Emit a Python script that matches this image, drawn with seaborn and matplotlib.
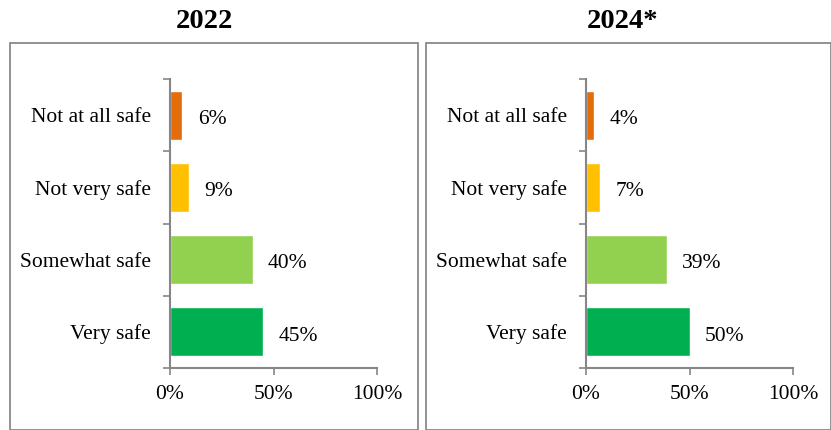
import matplotlib
matplotlib.use("Agg")
import matplotlib.pyplot as plt
import matplotlib.patches as patches
import seaborn as sns
import pandas as pd

# data
categories = ["Not at all safe", "Not very safe", "Somewhat safe", "Very safe"]
values_2022 = [6, 9, 40, 45]
values_2024 = [4, 7, 39, 50]
titles = ["2022", "2024*"]
colors = ["#E46C0A", "#FFC000", "#92D050", "#00B050"]
xticks = [0, 50, 100]

sns.set_theme(style="white")
plt.rcParams["font.family"] = ["Liberation Serif", "DejaVu Serif"]
plt.rcParams["text.color"] = "black"
plt.rcParams["xtick.color"] = "black"
plt.rcParams["ytick.color"] = "black"

W, H = 831, 430
fig = plt.figure(figsize=(W / 100, H / 100), dpi=100)

spine_col = "#868686"
box_col = "#7F7F7F"
fs = 15.5

# panel layout in pixels: box (x0, x1), axis left edge, title centre
panels = [
    dict(box=(10, 418), ax_x=170, title_x=204),
    dict(box=(426, 831), ax_x=586, title_x=622),
]
ax_w = 207
ax_top, ax_bot = 79, 368

for vals, title, p in zip([values_2022, values_2024], titles, panels):
    # outer box
    bx0, bx1 = p["box"]
    fig.patches.append(patches.Rectangle(
        (bx0 / W, 1 - 429.5 / H), (bx1 - bx0) / W, (429.5 - 43) / H,
        transform=fig.transFigure, fill=False, edgecolor=box_col, linewidth=1.2))
    fig.text(p["title_x"] / W, 1 - 21 / H, title, ha="center", va="center",
             fontsize=20.5, fontweight="bold", color="black")

    ax = fig.add_axes([p["ax_x"] / W, 1 - ax_bot / H, ax_w / W, (ax_bot - ax_top) / H])
    ax.set_facecolor("none")
    df = pd.DataFrame({"cat": categories, "val": vals})
    sns.barplot(data=df, x="val", y="cat", hue="cat", palette=colors,
                order=categories, hue_order=categories, width=0.68,
                legend=False, ax=ax, saturation=1)

    for i, v in enumerate(vals):
        ax.annotate(f"{v}%", (v, i), xytext=(11, -3), textcoords="offset points",
                    ha="left", va="center", fontsize=fs, color="black")

    ax.set_xlim(0, 100)
    ax.set_ylim(3.5, -0.5)
    ax.set_xticks(xticks)
    ax.set_xticklabels([f"{t}%" for t in xticks], fontsize=fs)
    # category boundaries get ticks, centres get the labels
    ax.set_yticks([-0.5, 0.5, 1.5, 2.5, 3.5])
    ax.set_yticklabels([])
    ax.set_yticks(range(len(categories)), minor=True)
    ax.set_yticklabels(categories, minor=True, fontsize=fs)
    ax.tick_params(axis="y", which="minor", length=0, pad=13.5)
    ax.tick_params(axis="y", which="major", length=5, width=1.2, color=spine_col, direction="out", left=True)
    ax.tick_params(axis="x", length=5, width=1.2, color=spine_col, direction="out", bottom=True, pad=7,
                   labelcolor="black")
    ax.set_xlabel("")
    ax.set_ylabel("")
    for s in ["top", "right"]:
        ax.spines[s].set_visible(False)
    for s in ["left", "bottom"]:
        ax.spines[s].set_color(spine_col)
        ax.spines[s].set_linewidth(1.5)

fig.savefig("out.png", dpi=100)
